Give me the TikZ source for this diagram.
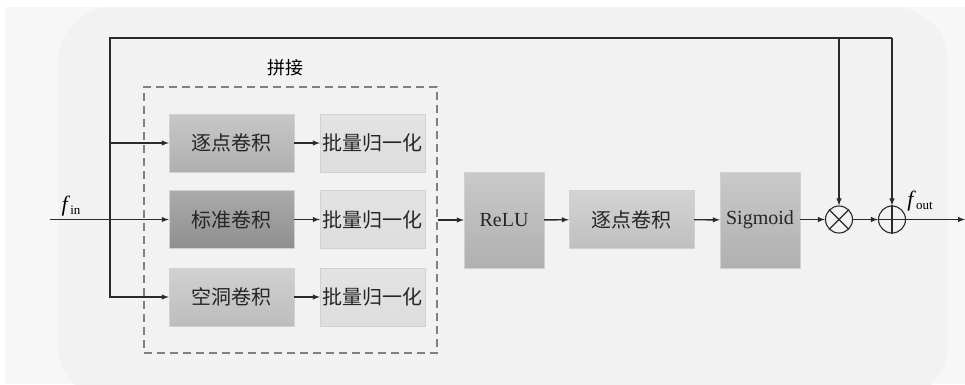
\documentclass[tikz,border=0pt]{standalone}
\usepackage{fontspec}
\setmainfont{Liberation Serif}
\newfontfamily\cjk{Noto Sans CJK SC}
\usetikzlibrary{arrows}
\definecolor{bgout}{HTML}{F7F7F7}
\definecolor{bgin}{HTML}{F2F2F2}
\definecolor{ink}{HTML}{2A2A2A}
\def\ymid{219.5}
\tikzset{
  blk/.style={draw=black!18,inner sep=0pt,text=black!85,font=\cjk\fontsize{20}{24}\selectfont},
  latn/.style={font=\fontsize{20}{24}\selectfont},
  conv/.style={blk,minimum width=125,minimum height=58},
  bn/.style={blk,minimum width=105,minimum height=58,top color=black!11,bottom color=black!13},
  tall/.style={blk,latn,minimum width=80,minimum height=96,top color=black!21,bottom color=black!31},
  ln/.style={draw=ink,line width=1.4pt},
  op/.style={circle,draw=ink,line width=1.1pt,minimum size=27,inner sep=0pt},
}
\begin{document}
\begin{tikzpicture}[x=1pt,y=-1pt]
        \useasboundingbox (0,0) rectangle (965,384);
        %
        \fill[bgout] (5,7) rectangle (965,384);
        \fill[bgin,rounded corners=55] (58,7) rectangle (948,400);
        %
        \node[draw=black!50,line width=1.6pt,dash pattern=on 8pt off 5pt,minimum width=293,minimum height=266] (cat) at (290.5,220) {};
        \node[font=\cjk\fontsize{18}{22}\selectfont] (catlbl) at (285,68) {拼接};
        %
        \node[conv,top color=black!22,bottom color=black!31] (pw) at (231.5,143) {逐点卷积};
        \node[conv,top color=black!33,bottom color=black!44] (std) at (231.5,\ymid) {标准卷积};
        \node[conv,top color=black!18,bottom color=black!26] (dil) at (231.5,297) {空洞卷积};
        \node[bn] (bna) at (372.5,143) {批量归一化};
        \node[bn] (bnb) at (372.5,\ymid) {批量归一化};
        \node[bn] (bnc) at (372.5,297) {批量归一化};
        %
        \node[tall] (relu) at (504,220) {ReLU};
        \node[conv,top color=black!17,bottom color=black!25] (pwb) at (631.5,\ymid) {逐点卷积};
        \node[tall] (sig) at (760,220) {Sigmoid};
        \node[op] (mul) at (839,\ymid) {};
        \node[op] (add) at (892,\ymid) {};
        \draw[ink,line width=1.1pt] (mul.north west) -- (mul.south east) (mul.north east) -- (mul.south west);
        \draw[ink,line width=1.1pt] (add.north) -- (add.south) (add.west) -- (add.east);
        %
        \coordinate (in) at (50,\ymid);
        \coordinate (br) at (110,\ymid);
        \coordinate (tl) at (110,38);
        \coordinate (out) at (965,\ymid);
        %
        \draw[ln,->,>=latex] (in) -- (std.west);
        \draw[ln,->,>=latex] (br) |- (pw.west);
        \draw[ln,->,>=latex] (br) |- (dil.west);
        \draw[ln,line width=1.9pt] (br) -- (tl) -- (mul.north |- tl);
        \draw[ln] (mul.north |- tl) -- (add.north |- tl);
        \draw[ln,->,>=latex] (mul.north |- tl) -- (mul.north);
        \draw[ln,->,>=latex] (add.north |- tl) -- (add.north);
        %
        \draw[ln,->,>=latex] (pw) -- (bna);
        \draw[ln,->,>=latex] (std) -- (bnb);
        \draw[ln,->,>=latex] (dil) -- (bnc);
        \draw[ln,->,>=latex] (cat.east |- relu.west) -- (relu.west);
        \draw[ln,->,>=latex] (relu) -- (pwb);
        \draw[ln,->,>=latex] (pwb) -- (sig);
        \draw[ln,->,>=latex] (sig.east |- mul.west) -- (mul.west);
        \draw[ln,->,>=latex] (mul) -- (add);
        \draw[ln,->,>=latex] (add) -- (out);
        %
        \node[latn,anchor=base] (fin) at (71,211) {\fontsize{22}{24}\selectfont\textit{f}\raisebox{-0.3ex}{\fontsize{13}{13}\selectfont in}};
        \node[latn,anchor=base] (fout) at (920,206) {\fontsize{22}{24}\selectfont\textit{f}\raisebox{-0.3ex}{\fontsize{13}{13}\selectfont out}};
      \end{tikzpicture}
\end{document}
